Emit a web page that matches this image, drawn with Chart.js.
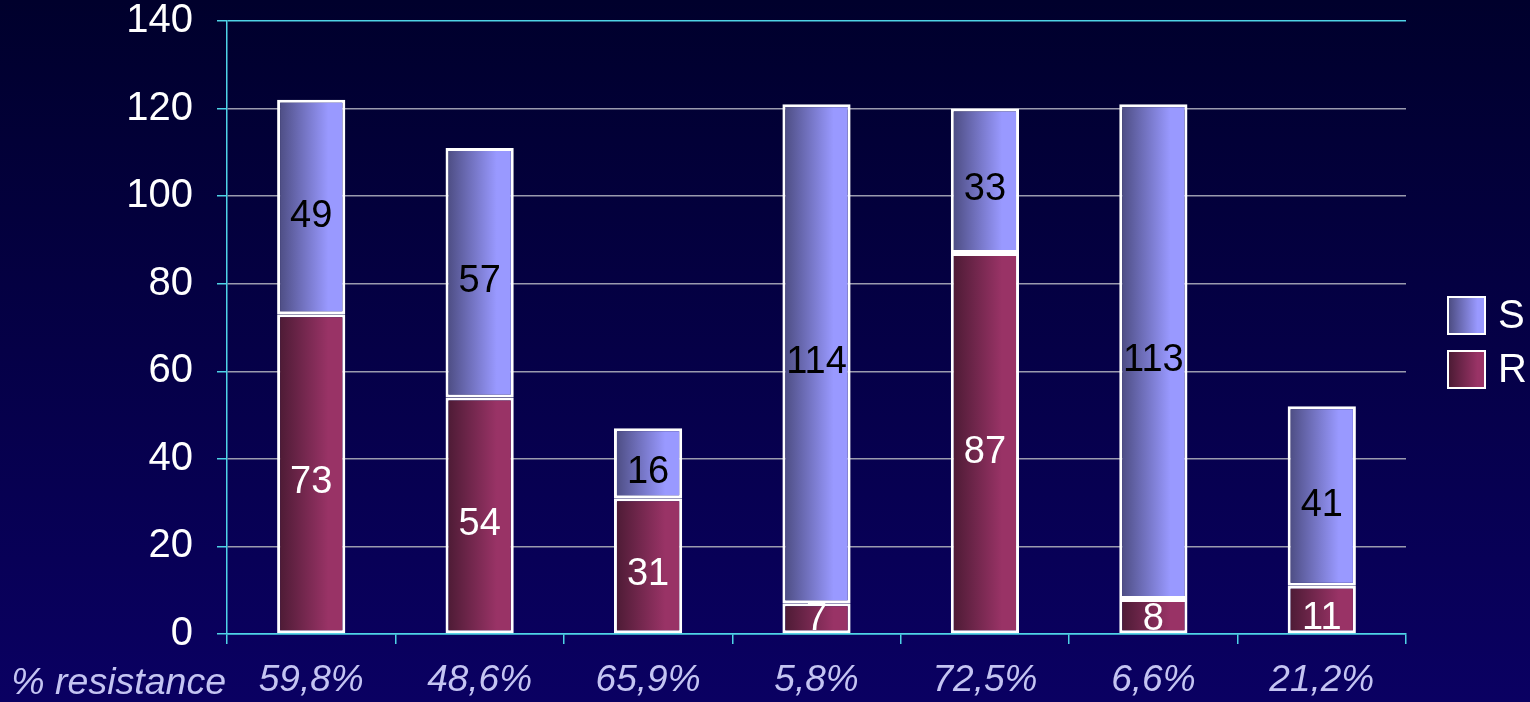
<!DOCTYPE html>
<html>
<head>
<meta charset="utf-8">
<script src="https://cdn.jsdelivr.net/npm/chart.js@4"></script>
<style>
  html, body { margin: 0; padding: 0; background: #00002a; }
  canvas { display: block; }
</style>
</head>
<body>
<canvas id="myChart" width="1530" height="702"></canvas>
<script>
const categories = ['59,8%', '48,6%', '65,9%', '5,8%', '72,5%', '6,6%', '21,2%'];
const resistant = [73, 54, 31, 7, 87, 8, 11];
const susceptible = [49, 57, 16, 114, 33, 113, 41];
const seriesNames = ['R', 'S'];
const yMax = 140;
const yStep = 20;
const rowLabel = '% resistance';

const CYAN = '#4fd3e6';
const BAR_PCT = 0.405;
const FONT = '"Liberation Sans", Arial, sans-serif';

const colR = ['#4a1a33', '#993366'];
const colS = ['#4a4a7e', '#9999ff'];

// horizontal gradient across the width of each bar
function barFill(c) {
  return (ctx) => {
    const chart = ctx.chart;
    const xs = chart.scales.x;
    if (ctx.type !== 'data' || !xs || !chart.chartArea) return c[1];
    const cx = xs.getPixelForValue(ctx.dataIndex);
    const w = xs.width / categories.length * BAR_PCT;
    const g = chart.ctx.createLinearGradient(cx - w / 2, 0, cx + w / 2, 0);
    g.addColorStop(0, c[0]);
    g.addColorStop(0.75, c[1]);
    g.addColorStop(1, c[1]);
    return g;
  };
}

const backdrop = {
  id: 'backdrop',
  beforeDraw(chart) {
    const { ctx, width, height } = chart;
    const g = ctx.createLinearGradient(0, 0, 0, height);
    g.addColorStop(0, '#00002c');
    g.addColorStop(1, '#0a0062');
    ctx.save();
    ctx.fillStyle = g;
    ctx.fillRect(0, 0, width, height);
    ctx.restore();
  }
};

const extras = {
  id: 'extras',
  afterDatasetsDraw(chart) {
    const { ctx, chartArea } = chart;
    ctx.save();
    ctx.font = '38px ' + FONT;
    ctx.textAlign = 'center';
    ctx.textBaseline = 'middle';
    chart.data.datasets.forEach((ds, di) => {
      const meta = chart.getDatasetMeta(di);
      meta.data.forEach((el, i) => {
        const h = Math.abs(el.base - el.y);
        const mid = (el.y + el.base) / 2;
        const shift = Math.max(0, Math.min(9, h / 2 - 14));
        ctx.fillStyle = di === 0 ? '#ffffff' : '#000000';
        ctx.fillText(String(ds.data[i]), el.x, mid + shift);
      });
    });

    // row caption on the category label line
    ctx.font = 'italic 37.5px ' + FONT;
    ctx.fillStyle = '#c4c4f2';
    ctx.textAlign = 'right';
    ctx.fillText(rowLabel, chartArea.left - 1, 684);

    // legend, S above R
    const items = [[seriesNames[1], colS], [seriesNames[0], colR]];
    items.forEach(([name, c], k) => {
      const bx = 1448, by = 297 + k * 54, s = 37;
      const g = ctx.createLinearGradient(bx, 0, bx + s, 0);
      g.addColorStop(0, c[0]);
      g.addColorStop(0.8, c[1]);
      g.addColorStop(1, c[1]);
      ctx.fillStyle = g;
      ctx.fillRect(bx, by, s, s);
      ctx.strokeStyle = '#ffffff';
      ctx.lineWidth = 2;
      ctx.strokeRect(bx, by, s, s);
      ctx.font = '40px ' + FONT;
      ctx.fillStyle = '#ffffff';
      ctx.textAlign = 'left';
      ctx.fillText(name, bx + s + 13, by + s / 2 + 1);
    });
    ctx.restore();
  }
};

const ctx = document.getElementById('myChart');

new Chart(ctx, {
  type: 'bar',
  data: {
    labels: categories,
    datasets: [
      {
        label: seriesNames[0],
        data: resistant,
        backgroundColor: barFill(colR),
        borderColor: '#ffffff',
        borderWidth: 3,
        borderSkipped: false
      },
      {
        label: seriesNames[1],
        data: susceptible,
        backgroundColor: barFill(colS),
        borderColor: '#ffffff',
        borderWidth: 3,
        borderSkipped: false
      }
    ]
  },
  options: {
    responsive: false,
    animation: false,
    categoryPercentage: 1,
    barPercentage: BAR_PCT,
    layout: { padding: { top: 0, right: 124, left: 0, bottom: 0 } },
    plugins: {
      legend: { display: false },
      tooltip: { enabled: false }
    },
    scales: {
      x: {
        stacked: true,
        grid: {
          offset: true,
          drawOnChartArea: false,
          color: CYAN,
          lineWidth: 1.5,
          tickLength: 10
        },
        border: { color: CYAN, width: 1.5 },
        ticks: {
          color: '#c4c4f2',
          font: { family: FONT, size: 37, style: 'italic' },
          padding: 15
        },
        afterFit(scale) { scale.height = 68; }
      },
      y: {
        stacked: true,
        min: 0,
        max: yMax,
        ticks: {
          stepSize: yStep,
          color: '#ffffff',
          font: { family: FONT, size: 40, lineHeight: 1.05 },
          padding: 24
        },
        grid: {
          color: (c) => (c.tick && (c.tick.value === yMax || c.tick.value === 0)) ? CYAN : '#9a9aae',
          tickColor: CYAN,
          lineWidth: 1.5,
          tickLength: 10
        },
        border: { color: CYAN, width: 1.5 },
        afterFit(scale) {
          scale.width = 227;
          scale.paddingTop = 21;
          scale.paddingBottom = 0;
        }
      }
    }
  },
  plugins: [backdrop, extras]
});
</script>
</body>
</html>
